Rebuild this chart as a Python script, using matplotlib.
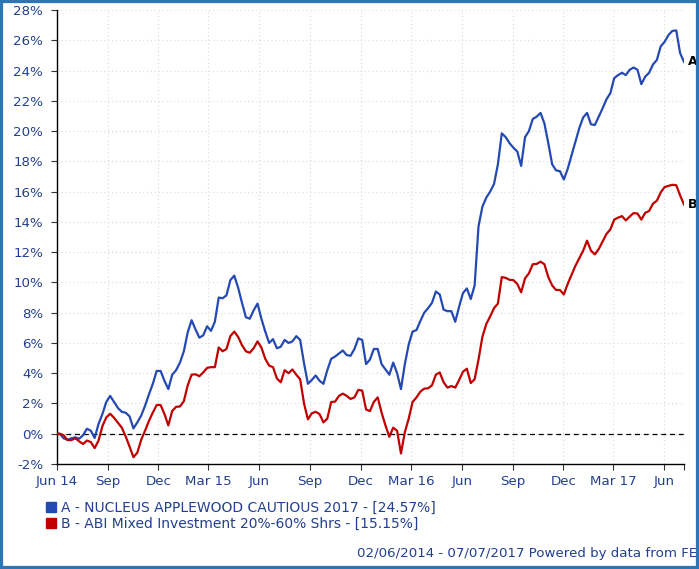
import matplotlib
matplotlib.use("Agg")
import matplotlib.pyplot as plt
import matplotlib.dates as mdates
from matplotlib.lines import Line2D
from matplotlib.patches import Rectangle
import pandas as pd
import numpy as np

plt.rcParams['font.family'] = ['DejaVu Sans']

# ---- data ----
start_date = "2014-06-02"
week_dates = pd.date_range("2014-06-06", "2017-07-07", freq="W-FRI")
dates = [pd.Timestamp(start_date)] + list(week_dates)

series_a = [0.0,
    0.0, -0.3, -0.4, -0.3, -0.24, -0.33, -0.1, 0.33, 0.2, -0.28,
    0.65, 1.3, 2.1, 2.5, 2.1, 1.7, 1.45, 1.39, 1.15, 0.35,
    0.75, 1.2, 1.85, 2.6, 3.3, 4.15, 4.15, 3.5, 2.95, 3.9,
    4.2, 4.7, 5.45, 6.7, 7.5, 6.9, 6.35, 6.5, 7.1, 6.8,
    7.4, 9.0, 8.95, 9.15, 10.15, 10.45, 9.65, 8.65, 7.7, 7.6,
    8.15, 8.6, 7.6, 6.75, 6.0, 6.25, 5.65, 5.75, 6.2, 6.0,
    6.1, 6.45, 6.2, 4.65, 3.3, 3.55, 3.85, 3.5, 3.3, 4.2,
    4.95, 5.1, 5.3, 5.5, 5.2, 5.15, 5.6, 6.3, 6.2, 4.6,
    4.9, 5.6, 5.6, 4.6, 4.25, 3.9, 4.7, 4.0, 2.95, 4.6,
    5.9, 6.75, 6.85, 7.45, 8.0, 8.3, 8.65, 9.4, 9.2, 8.2,
    8.1, 8.1, 7.4, 8.4, 9.3, 9.6, 8.9, 9.8, 13.7, 15.0,
    15.6, 16.0, 16.5, 17.8, 19.85, 19.6, 19.2, 18.9, 18.65, 17.7,
    19.6, 20.0, 20.8, 20.95, 21.2, 20.5, 19.2, 17.8, 17.4, 17.35,
    16.8, 17.5, 18.4, 19.3, 20.2, 20.9, 21.2, 20.45, 20.4, 20.95,
    21.5, 22.1, 22.5, 23.5, 23.7, 23.85, 23.7, 24.05, 24.2, 24.05,
    23.1, 23.6, 23.85, 24.4, 24.7, 25.6, 25.9, 26.35, 26.62, 26.65,
    25.15, 24.57]

series_b = [0.0,
    0.0, -0.1, -0.42, -0.42, -0.3, -0.5, -0.68, -0.45, -0.55, -0.95,
    -0.45, 0.5, 1.08, 1.32, 1.05, 0.72, 0.4, -0.18, -0.85, -1.55,
    -1.25, -0.4, 0.2, 0.85, 1.4, 1.9, 1.9, 1.3, 0.55, 1.5,
    1.78, 1.8, 2.15, 3.2, 3.9, 3.93, 3.8, 4.05, 4.35, 4.4,
    4.4, 5.7, 5.45, 5.6, 6.45, 6.75, 6.4, 5.85, 5.45, 5.35,
    5.65, 6.1, 5.7, 4.95, 4.5, 4.4, 3.65, 3.4, 4.2, 4.0,
    4.25, 3.9, 3.6, 2.0, 0.95, 1.35, 1.45, 1.3, 0.75, 1.0,
    2.1, 2.12, 2.5, 2.65, 2.5, 2.3, 2.4, 2.9, 2.85, 1.6,
    1.5, 2.1, 2.4, 1.4, 0.55, -0.2, 0.4, 0.2, -1.3, 0.1,
    1.0, 2.1, 2.4, 2.78, 2.98, 3.0, 3.2, 3.9, 4.05, 3.4,
    3.05, 3.15, 3.05, 3.55, 4.1, 4.3, 3.35, 3.6, 4.9, 6.4,
    7.25, 7.75, 8.3, 8.6, 10.35, 10.3, 10.17, 10.15, 9.9, 9.35,
    10.27, 10.6, 11.2, 11.22, 11.37, 11.2, 10.35, 9.8, 9.5, 9.5,
    9.2, 9.9, 10.5, 11.1, 11.6, 12.1, 12.76, 12.1, 11.85, 12.2,
    12.7, 13.2, 13.5, 14.15, 14.28, 14.38, 14.1, 14.35, 14.58, 14.55,
    14.15, 14.6, 14.72, 15.2, 15.4, 15.95, 16.3, 16.38, 16.45, 16.42,
    15.75, 15.15]

label_a = "A - NUCLEUS APPLEWOOD CAUTIOUS 2017 - [24.57%]"
label_b = "B - ABI Mixed Investment 20%-60% Shrs - [15.15%]"
short_a, short_b = "A", "B"
footer = "02/06/2014 - 07/07/2017 Powered by data from FE"
y_ticks = list(range(-2, 29, 2))
x_start, x_end = "2014-06-01", "2017-07-07"

# ---- style ----
color_a = "#2449b2"
color_b = "#c00000"
text_color = "#22408f"
W, H = 699, 569

fig = plt.figure(figsize=(W / 100, H / 100), dpi=100)
ax = fig.add_axes([57 / W, 1 - 464 / H, (684 - 57) / W, (464 - 10) / H])

n = min(len(dates), len(series_a), len(series_b))
d = dates[:n]
ax.plot(d, series_a[:n], color=color_a, lw=1.6, solid_joinstyle='round', zorder=3)
ax.plot(d, series_b[:n], color=color_b, lw=1.6, solid_joinstyle='round', zorder=3)
ax.axhline(0, color="black", lw=0.9, ls=(0, (4, 3)), zorder=2)

ax.set_xlim(pd.Timestamp(x_start), pd.Timestamp(x_end))
ax.set_ylim(y_ticks[0], y_ticks[-1])
ax.set_yticks(y_ticks)
ax.set_yticklabels([f"{v}%" for v in y_ticks])

ax.xaxis.set_major_locator(mdates.MonthLocator(bymonth=[3, 6, 9, 12]))
first = mdates.date2num(pd.Timestamp(x_start))

def fmt(x, pos=None):
    dt = mdates.num2date(x)
    if dt.month == 3 or abs(x - first) < 1:
        return dt.strftime("%b %y")
    return dt.strftime("%b")

ax.xaxis.set_major_formatter(plt.FuncFormatter(fmt))
ax.set_xticks([mdates.date2num(pd.Timestamp(x_end))], minor=True)
ax.tick_params(axis='x', which='minor', length=4, color="#333333", width=0.8)

ax.tick_params(axis='both', which='major', labelsize=9.6, colors=text_color,
               length=4, width=0.8)
ax.tick_params(axis='both', which='major', color="#333333")
ax.tick_params(axis='y', pad=6)
ax.tick_params(axis='x', pad=4)
ax.grid(True, which='both', color="#dadada", ls=(0, (1, 2.5)), lw=0.8)
for s in ["top", "right"]:
    ax.spines[s].set_visible(False)
for s in ["left", "bottom"]:
    ax.spines[s].set_color("black")
    ax.spines[s].set_linewidth(1.0)

# end labels
ax.annotate(short_a, (d[-1], series_a[n - 1]), xytext=(3, 0), textcoords="offset points",
            ha="left", va="center", fontsize=9, fontweight="bold", color="black",
            annotation_clip=False)
ax.annotate(short_b, (d[-1], series_b[n - 1]), xytext=(3, 0), textcoords="offset points",
            ha="left", va="center", fontsize=9, fontweight="bold", color="black",
            annotation_clip=False)

# legend
handles = [Line2D([], [], marker='s', ls='none', color=color_a, markersize=7),
           Line2D([], [], marker='s', ls='none', color=color_b, markersize=7)]
leg = fig.legend(handles, [label_a, label_b], loc="upper left",
                 bbox_to_anchor=(47 / W, 1 - 501 / H), frameon=False,
                 handlelength=0.6, handletextpad=0.4, labelspacing=0.12,
                 borderpad=0, borderaxespad=0, fontsize=10)
for t in leg.get_texts():
    t.set_color(text_color)

fig.text(697 / W, 1 - 553 / H, footer, ha="right", va="center",
         fontsize=9.6, color=text_color)

fig.patches.append(Rectangle((0, 0), 1, 1, transform=fig.transFigure,
                             fill=False, edgecolor="#2e75b6", lw=4.5, zorder=10))

fig.savefig("out.png", dpi=100)
